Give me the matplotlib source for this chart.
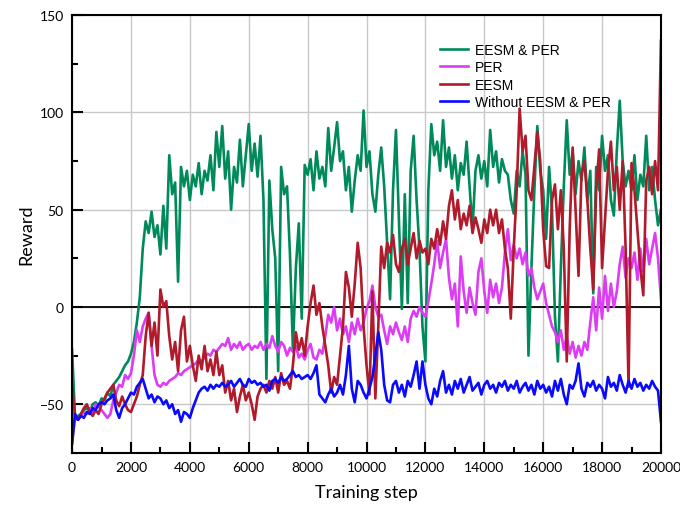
import numpy as np
import matplotlib
matplotlib.use("Agg")
import matplotlib.pyplot as plt
from matplotlib.ticker import MultipleLocator

# training steps (one value every 100 steps)
steps = np.arange(0, 20001, 100)

eesm_per = [
    -22, -57, -56, -55, -53, -52, -54, -50, -49, -51,
    -47, -48, -44, -46, -40, -38, -36, -33, -30, -28,
    -24, -18, -8, 5, 30, 44, 38, 49, 36, 42,
    27, 52, 30, 78, 58, 64, 13, 72, 62, 70,
    55, 68, 62, 74, 58, 70, 65, 78, 60, 90,
    72, 93, 66, 80, 50, 72, 64, 86, 62, 78,
    94, 70, 84, 67, 88, 55, -37, 65, 40, 25,
    -33, 72, 58, 62, 27, -22, 20, 43, -6, 73,
    68, 76, 60, 80, 66, 72, 62, 92, 70, 82,
    95, 75, 80, 60, 72, 49, 65, 78, 70, 101,
    72, 80, 58, 49, 68, 82, 62, 33, 4, 60,
    91, 45, -1, 58, 2, 70, 88, 55, 30, -10,
    -28, 60, 94, 78, 85, 70, 96, 72, 82, 66,
    78, 60, 74, 68, 85, 62, 40, 70, 78, 66,
    75, 62, 91, 72, 80, 64, 76, 70, 68, 55,
    48, 70, 62, 80, 68, -25, 20, 60, 93, 70,
    60, 35, 72, 50, -5, -28, 20, 62, 96, 68,
    80, 58, 75, 65, 82, 55, 70, 7, 72, 60,
    88, 70, 78, 55, 47, 80, 106, 75, 62, 70,
    60, 78, 55, 68, 62, 88, 60, 72, 55, 42,
    50,
]

per = [
    -70, -57, -58, -56, -54, -55, -52, -54, -50, -51,
    -53, -55, -57, -55, -48, -44, -40, -41, -35, -37,
    -34, -25, -12, -18, -10, -6, -3, -20, -35, -40,
    -41, -39, -40, -38, -37, -36, -34, -35, -33, -32,
    -31, -30, -29, -27, -28, -26, -24, -25, -22, -23,
    -21, -19, -20, -16, -22, -19, -21, -18, -22, -20,
    -19, -22, -20, -21, -18, -22, -19, -21, -15, -20,
    -23, -18, -20, -25, -21, -23, -20, -26, -24, -27,
    -22, -19, -26, -27, -22, -24, -15, -4, -8, 0,
    -12, -6, -14, -10, -18, -8, -14, -6, -12, -8,
    -1, 3, 11, 0, -5, -4, -12, -19, -10, -14,
    -8, -13, -17, -10, -18, -6, -2, -5, 0, -3,
    -5, 3, 12, 22, 34, 20, 28, 35, 15, 4,
    12, -10, 26, 8, -3, 10, 2, -4, 18, 25,
    8, -3, 14, 5, 12, 2, 10, 28, 40, 24,
    32, 25, 30, 22, 28, 16, 20, 10, 4, 8,
    12, 2, -4, -10, -13, -18, -12, -22, -15, -24,
    -18, -26, -20, -25, -18, -22, -8, 5, -12, 10,
    -6, 16, -2, 12, 0, 8, 22, 31, 15, 25,
    20, 28, 14, 30, 18, 35, 22, 30, 38, 25,
    4,
]

eesm = [
    -40, -56, -58, -55, -52, -50, -54, -56, -53, -55,
    -50, -47, -44, -42, -40, -48, -51, -46, -50, -53,
    -54, -50, -46, -40, -35, -15, -3, -20, -8, -25,
    9, 0, 3, -15, -27, -18, -33, -12, -5, -28,
    -20, -30, -38, -25, -32, -20, -33, -27, -35, -23,
    -35, -30, -44, -38, -48, -42, -54, -46, -40, -48,
    -44, -50, -58, -46, -42, -40, -44, -38, -42, -36,
    -44, -34, -40, -38, -42, -30, -13, -22, -16, -25,
    -10, 2, 11, -4, 2, -10, -20, -30, -44, -36,
    -40, -25, -10, 18, 10, -5, 12, 33, 20, -10,
    -30, -45, 8, -47, -10, 31, 20, 33, 28, 37,
    22, 18, 30, 35, 22, 30, 38, 25, 34, 28,
    30, 22, 35, 30, 40, 32, 44, 35, 52, 60,
    45, 55, 40, 48, 42, 52, 38, 46, 40, 33,
    45, 38, 50, 42, 50, 38, 45, 30, 20, -6,
    30, 60, 102, 80, 88, 60, 55, 72, 90, 75,
    40, 21, 20, 55, 63, 40, 60, 30, -28, 40,
    82, 50, 16, 68, 75, 55, 30, 9, 60, 81,
    20, 45, 70, 85, 60, 72, 50, 75, 30, -41,
    74, 60, 40, 20, 6, 65, 72, 58, 75, 60,
    137,
]

baseline = [
    -70, -55, -58, -56, -57, -54, -55, -52, -53, -50,
    -49, -50, -48, -47, -45, -53, -57, -52, -50, -47,
    -44, -45, -41, -39, -37, -42, -47, -45, -49, -46,
    -47, -50, -48, -52, -50, -55, -53, -59, -54, -55,
    -57, -52, -48, -44, -42, -41, -43, -40, -42, -40,
    -41, -39, -41, -40, -38, -41, -39, -37, -40, -41,
    -37, -39, -38, -40, -39, -41, -40, -43, -38, -37,
    -39, -36, -38, -37, -35, -33, -36, -35, -37, -36,
    -35, -37, -34, -30, -45, -47, -49, -45, -42, -46,
    -44, -40, -45, -35, -20, -42, -49, -38, -40, -44,
    -47, -42, -36, -25, -13, -22, -40, -48, -49, -40,
    -38, -44, -40, -46, -38, -41, -35, -28, -42, -28,
    -40, -47, -50, -42, -46, -38, -33, -44, -40, -45,
    -38, -42, -37, -44, -40, -36, -43, -41, -39, -45,
    -40, -38, -42, -40, -44, -39, -41, -38, -43, -40,
    -42, -38, -44, -41, -39, -43, -40, -45, -38, -42,
    -40, -44, -41, -46, -38, -43, -37, -45, -50, -40,
    -42, -38, -29, -42, -46, -39, -41, -38, -43, -40,
    -42, -47, -36, -41, -39, -43, -35, -40, -44, -38,
    -42, -37, -41, -39, -43, -40, -42, -38, -41, -43,
    -59,
]

labels = ["EESM & PER", "PER", "EESM", "Without EESM & PER"]
colors = ["#008a5a", "#dd3cf5", "#b01a2a", "#0a0aff"]

fig = plt.figure(figsize=(6.8, 5.06), dpi=100)
ax = fig.add_axes([0.106, 0.103, 0.866, 0.865])

for y, lab, c in zip([eesm_per, per, eesm, baseline], labels, colors):
    ax.plot(steps, y, color=c, lw=1.9, label=lab)

ax.axhline(0, color="black", lw=1.3, zorder=1)
ax.set_xlim(0, 20000)
ax.set_ylim(-75, 150)
ax.xaxis.set_major_locator(MultipleLocator(2000))
ax.xaxis.set_minor_locator(MultipleLocator(1000))
ax.yaxis.set_major_locator(MultipleLocator(50))
ax.yaxis.set_minor_locator(MultipleLocator(25))
ax.grid(True, which="major", color="#c8c8c8", lw=1)
ax.set_axisbelow(True)

ax.tick_params(which="both", direction="in", top=False, right=False, width=1.5, labelsize=10)
ax.tick_params(which="major", length=8, pad=6)
ax.tick_params(which="minor", length=4)
for s in ax.spines.values():
    s.set_linewidth(1.5)
for t in ax.get_xticklabels() + ax.get_yticklabels():
    t.set_fontfamily("Lato")

ax.set_xlabel("Training step", fontsize=13, fontfamily="Lato", labelpad=8)
ax.set_ylabel("Reward", fontsize=13, fontfamily="Lato")

ax.legend(loc="upper left", bbox_to_anchor=(0.615, 0.95), frameon=False,
          prop={"family": "Liberation Sans", "size": 10}, handlelength=2.0,
          handletextpad=0.5, labelspacing=0.25, borderaxespad=0)

fig.savefig("out.png", dpi=100)
